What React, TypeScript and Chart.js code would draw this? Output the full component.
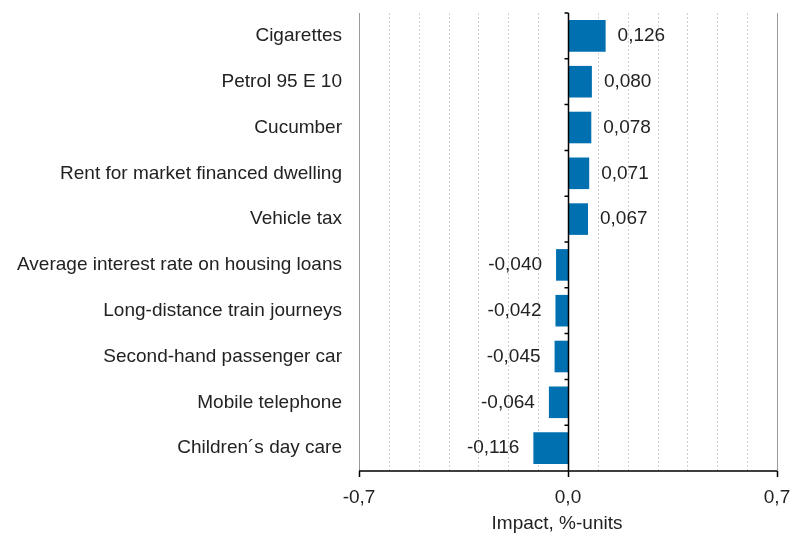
import React, { useEffect, useRef } from "react";
import { Chart, registerables } from "chart.js";

Chart.register(...registerables);

const categories = [
  "Cigarettes",
  "Petrol 95 E 10",
  "Cucumber",
  "Rent for market financed dwelling",
  "Vehicle tax",
  "Average interest rate on housing loans",
  "Long-distance train journeys",
  "Second-hand passenger car",
  "Mobile telephone",
  "Children´s day care",
];
const impactValues = [0.126, 0.08, 0.078, 0.071, 0.067, -0.04, -0.042, -0.045, -0.064, -0.116];
const axisMin = -0.7;
const axisMax = 0.7;
const labeledTicks = [-0.7, 0, 0.7];
const axisTitle = "Impact, %-units";

const FONT = "'Liberation Sans', Arial, sans-serif";
const FS = 19;
const fmt = (v: number, d: number) => v.toFixed(d).replace(".", ",");

const noPad = (s: any) => {
  s.paddingLeft = 0;
  s.paddingRight = 0;
  s.paddingTop = 0;
  s.paddingBottom = 0;
};

const gridPlugin = {
  id: "customGrid",
  beforeDatasetsDraw(chart: any) {
    const { ctx, chartArea, scales } = chart;
    const x = scales.x;
    ctx.save();
    for (let i = -7; i <= 7; i++) {
      const v = i / 10;
      const px = Math.round(x.getPixelForValue(v)) + 0.5;
      if (i === 0) continue;
      ctx.beginPath();
      if (i === -7 || i === 7) {
        ctx.setLineDash([]);
        ctx.strokeStyle = "#9a9a9a";
      } else {
        ctx.setLineDash([2, 2]);
        ctx.strokeStyle = "#cfcfcf";
      }
      ctx.lineWidth = 1;
      ctx.moveTo(px, chartArea.top);
      ctx.lineTo(px, chartArea.bottom);
      ctx.stroke();
    }
    ctx.restore();
  },
  afterDatasetsDraw(chart: any) {
    const { ctx, chartArea, scales } = chart;
    const x = scales.x;
    ctx.save();
    ctx.setLineDash([]);
    ctx.strokeStyle = "#000";
    ctx.lineWidth = 1.5;
    const zx = Math.round(x.getPixelForValue(0)) + 0.5;
    ctx.beginPath();
    ctx.moveTo(zx, chartArea.top);
    ctx.lineTo(zx, chartArea.bottom);
    const n = categories.length;
    const step = (chartArea.bottom - chartArea.top) / n;
    for (let i = 0; i < n; i++) {
      const py = chartArea.top + i * step;
      ctx.moveTo(zx - 4, py);
      ctx.lineTo(zx, py);
    }
    ctx.stroke();
    ctx.beginPath();
    ctx.moveTo(chartArea.left, chartArea.bottom);
    ctx.lineTo(chartArea.right, chartArea.bottom);
    for (const v of labeledTicks) {
      const px = Math.round(x.getPixelForValue(v)) + 0.5;
      ctx.moveTo(px, chartArea.bottom);
      ctx.lineTo(px, chartArea.bottom + 6);
    }
    ctx.stroke();

    const meta = chart.getDatasetMeta(0);
    ctx.fillStyle = "#222";
    ctx.font = `${FS}px ${FONT}`;
    ctx.textBaseline = "middle";
    meta.data.forEach((bar: any, i: number) => {
      const v = impactValues[i];
      const txt = fmt(v, 3);
      if (v >= 0) {
        ctx.textAlign = "left";
        ctx.fillText(txt, bar.x + 12, bar.y);
      } else {
        ctx.textAlign = "right";
        ctx.fillText(txt, bar.x - 14, bar.y);
      }
    });

    // axis title
    ctx.textAlign = "center";
    ctx.fillText(axisTitle, (chartArea.left + chartArea.right) / 2 - 11, chartArea.bottom + 53);
    ctx.restore();
  },
};

export default function App() {
  const ref = useRef<HTMLCanvasElement | null>(null);
  useEffect(() => {
    if (!ref.current) return;
    const chart = new Chart(ref.current, {
      type: "bar",
      data: {
        labels: categories,
        datasets: [
          {
            data: impactValues,
            backgroundColor: "#0070b0",
            borderWidth: 0,
            barPercentage: 0.69,
            categoryPercentage: 1,
          },
        ],
      },
      options: {
        indexAxis: "y",
        animation: false,
        responsive: false,
        devicePixelRatio: 1,
        layout: { padding: { top: 13, right: 15, left: 0, bottom: 0 } },
        plugins: {
          legend: { display: false },
          tooltip: { enabled: false },
        },
        scales: {
          x: {
            type: "linear",
            min: axisMin,
            max: axisMax,
            afterFit: (s: any) => {
              s.height = 67;
              noPad(s);
            },
            afterBuildTicks: (s: any) => {
              s.ticks = labeledTicks.map((v) => ({ value: v }));
            },
            grid: { display: false, drawTicks: false },
            border: { display: false },
            ticks: {
              padding: 15,
              color: "#222",
              font: { family: FONT, size: FS },
              maxRotation: 0,
              autoSkip: false,
              callback: (v: any) => fmt(Number(v), 1),
            },
            title: { display: false },
          },
          y: {
            afterFit: (s: any) => {
              s.width = 359;
              noPad(s);
            },
            grid: { display: false, drawTicks: false },
            border: { display: false },
            ticks: {
              padding: 17,
              color: "#222",
              font: { family: FONT, size: FS },
              autoSkip: false,
            },
          },
        },
      },
      plugins: [gridPlugin],
    });
    return () => chart.destroy();
  }, []);
  return (
    <div style={{ position: "absolute", left: 0, top: 0, width: 792, height: 538, background: "#fff" }}>
      <canvas ref={ref} width={792} height={538} style={{ width: 792, height: 538 }} />
    </div>
  );
}
